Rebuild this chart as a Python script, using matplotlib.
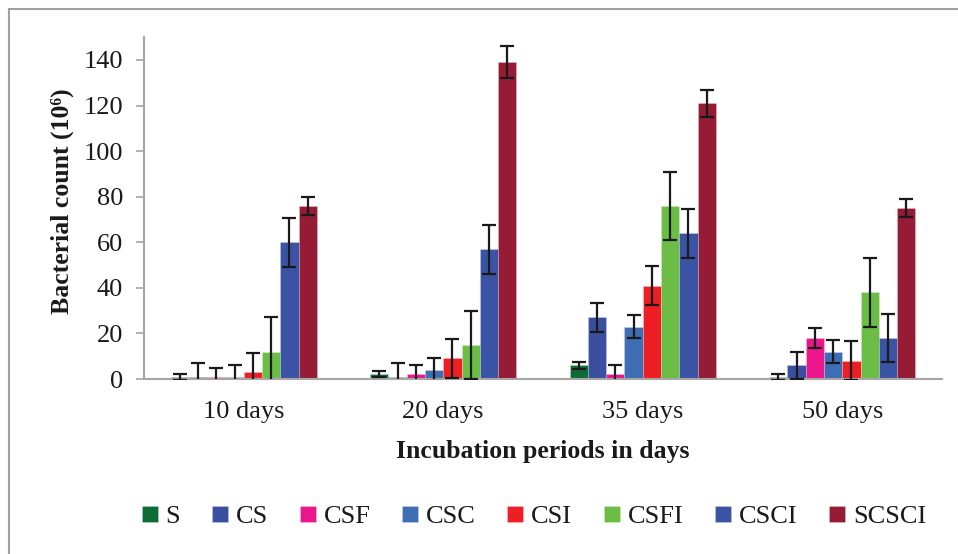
import numpy as np
import matplotlib
matplotlib.use("Agg")
import matplotlib.pyplot as plt
from matplotlib.patches import Rectangle

plt.rcParams['font.family'] = ['Liberation Serif', 'DejaVu Serif']

periods = ["10 days", "20 days", "35 days", "50 days"]
treatments = ["S", "CS", "CSF", "CSC", "CSI", "CSFI", "CSCI", "SCSCI"]
colors = ["#0f6b35", "#3a4fa0", "#ec168c", "#3f6db4", "#ee1f24", "#6cbd45", "#3a53a4", "#961b35"]

# mean counts per treatment, one value per period
S = [1, 2, 6, 1]
CS = [1, 1, 27, 6]
CSF = [1, 2, 2, 18]
CSC = [1, 4, 23, 12]
CSI = [3, 9, 41, 8]
CSFI = [12, 15, 76, 38]
CSCI = [60, 57, 64, 18]
SCSCI = [76, 139, 121, 75]

# error bar sizes
S_err = [1.3, 1.3, 1.4, 1.3]
CS_err = [6, 6, 6.2, 6]
CSF_err = [4, 4, 4, 4.2]
CSC_err = [5, 5, 5, 5]
CSI_err = [8.5, 8.6, 8.7, 8.5]
CSFI_err = [15, 15, 15, 15]
CSCI_err = [10.8, 10.8, 10.8, 10.7]
SCSCI_err = [4, 7, 6, 4]

values = [S, CS, CSF, CSC, CSI, CSFI, CSCI, SCSCI]
errors = [S_err, CS_err, CSF_err, CSC_err, CSI_err, CSFI_err, CSCI_err, SCSCI_err]

fig = plt.figure(figsize=(9.58, 5.54), dpi=100)
ax = fig.add_axes([144/958, 1 - 379/554, (942 - 144)/958, (379 - 37.2)/554])

x = np.arange(len(periods))
w = 0.0915
n = len(treatments)
for i, (name, vals, errs, c) in enumerate(zip(treatments, values, errors, colors)):
    pos = x + (i - (n - 1)/2) * w
    ax.bar(pos, vals, width=w, color=c, edgecolor=(1, 1, 1, 0.3), linewidth=0.5,
           label=name, zorder=2)
    ax.errorbar(pos, vals, yerr=errs, fmt='none', ecolor='#1a1a1a', elinewidth=1.6,
                capsize=5, capthick=1.6, zorder=3)

ax.set_xlim(-0.5, len(periods) - 0.5)
ax.set_ylim(0, 150)
ax.set_yticks(range(0, 141, 20))
ax.set_xticks(x)
ax.set_xticklabels(periods)

for s in ['top', 'right']:
    ax.spines[s].set_visible(False)
for s in ['left', 'bottom']:
    ax.spines[s].set_color('#a6a6a6')
    ax.spines[s].set_linewidth(1.5)
ax.tick_params(axis='y', length=6, width=1.2, color='#a6a6a6', labelsize=19,
               labelcolor='#1a1a1a', pad=9)
ax.tick_params(axis='x', length=0, labelsize=19, labelcolor='#1a1a1a', pad=16)

ax.set_ylabel("Bacterial count (10⁶)", fontsize=18.5, fontweight='bold', color='#1a1a1a')
ax.yaxis.set_label_coords(-0.088, 0.52)
ax.set_xlabel("Incubation periods in days", fontsize=18.5, fontweight='bold', color='#1a1a1a',
              labelpad=12)

fig.legend(loc='center', bbox_to_anchor=(534/958, 1 - 517/554), ncol=8, frameon=False,
           fontsize=19, handlelength=0.6, handleheight=0.6, handletextpad=0.3,
           columnspacing=1.2, labelcolor='#1a1a1a')

fig.patches.append(Rectangle((9/958, -0.1), 1.2, 1 - 9/554 + 0.1, transform=fig.transFigure,
                             fill=False, edgecolor='#a0a0a0', linewidth=1.5))

fig.savefig("out.png", dpi=100)
